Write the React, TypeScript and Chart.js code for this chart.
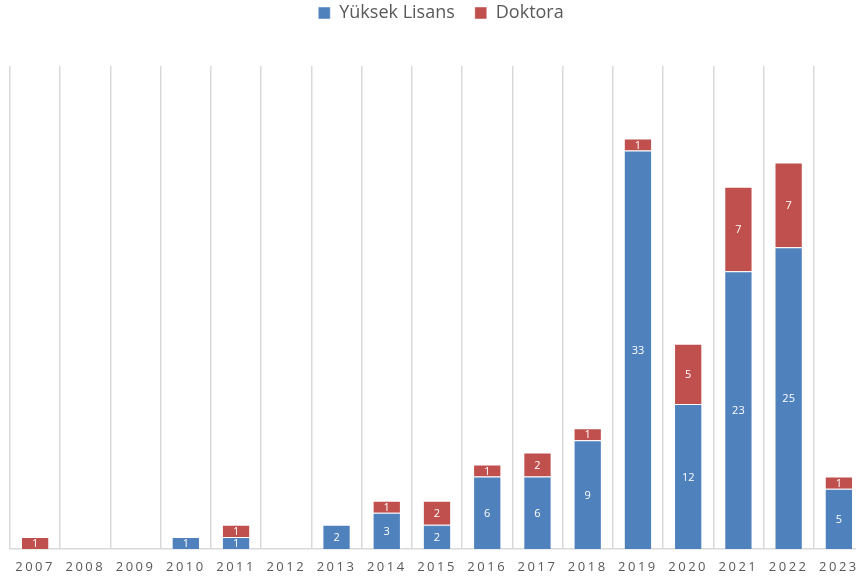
import React, { useEffect, useRef } from "react";
import { Chart, registerables } from "chart.js";
Chart.register(...registerables);

const years = ["2007", "2008", "2009", "2010", "2011", "2012", "2013", "2014", "2015", "2016", "2017", "2018", "2019", "2020", "2021", "2022", "2023"];
const yuksekLisans = [0, 0, 0, 1, 1, 0, 2, 3, 2, 6, 6, 9, 33, 12, 23, 25, 5];
const doktora = [1, 0, 0, 0, 1, 0, 0, 1, 2, 1, 2, 1, 1, 5, 7, 7, 1];
const seriesNames = ["Yüksek Lisans", "Doktora"];
const yMax = 40;

const FONT = "'Open Sans', sans-serif";
const LEGEND_H = 82;

const segLabels = {
  id: "segLabels",
  afterDatasetsDraw(chart: any) {
    const ctx = chart.ctx;
    ctx.save();
    ctx.font = `11px ${FONT}`;
    ctx.fillStyle = "#ffffff";
    ctx.textAlign = "center";
    ctx.textBaseline = "middle";
    chart.data.datasets.forEach((ds: any, i: number) => {
      const meta = chart.getDatasetMeta(i);
      meta.data.forEach((el: any, j: number) => {
        const v = ds.data[j];
        if (!v) return;
        const p = el.getProps(["x", "y", "base"], true);
        ctx.fillText(String(v), p.x, (p.y + p.base) / 2 + 1);
      });
    });
    ctx.restore();
  },
};

const tweaks = {
  id: "tweaks",
  beforeLayout(chart: any) {
    const lg = chart.legend;
    if (lg && !lg._fixed) {
      const f = lg.fit;
      lg.fit = function () {
        f.call(this);
        this.height = LEGEND_H;
      };
      lg._fixed = true;
    }
  },
  afterLayout(chart: any) {
    const lg = chart.legend;
    if (lg) {
      lg.left += 4;
      lg.right += 4;
    }
  },
  afterUpdate(chart: any) {
    const sc = chart.scales.x;
    if (sc && !sc._spaced) {
      const orig = sc.drawLabels.bind(sc);
      sc.drawLabels = (area: any) => {
        const c = chart.ctx;
        c.save();
        c.letterSpacing = "2.5px";
        orig(area);
        c.restore();
      };
      sc._spaced = true;
    }
  },
};

export default function App() {
  const ref = useRef<HTMLCanvasElement | null>(null);
  useEffect(() => {
    if (!ref.current) return;
    const chart = new Chart(ref.current, {
      type: "bar",
      data: {
        labels: years,
        datasets: [
          {
            label: seriesNames[0],
            data: yuksekLisans,
            backgroundColor: "#4F81BD",
            borderColor: "rgba(255,255,255,0.45)",
            borderWidth: 1,
            barPercentage: 0.563,
            categoryPercentage: 1,
          },
          {
            label: seriesNames[1],
            data: doktora,
            backgroundColor: "#C0504D",
            borderColor: "rgba(255,255,255,0.45)",
            borderWidth: 1,
            barPercentage: 0.563,
            categoryPercentage: 1,
          },
        ],
      },
      options: {
        animation: false,
        responsive: true,
        maintainAspectRatio: false,
        events: [],
        layout: { padding: { top: -16, left: 10, right: 0, bottom: 0 } },
        plugins: {
          tooltip: { enabled: false },
          legend: {
            position: "top",
            labels: {
              boxWidth: 12,
              boxHeight: 12,
              padding: 20,
              color: "#595959",
              font: { family: FONT, size: 18 },
            },
          },
        },
        scales: {
          x: {
            stacked: true,
            grid: { display: true, offset: true, color: "#d9d9d9", lineWidth: 1.5, drawTicks: false },
            border: { display: true, color: "#d9d9d9", width: 1.5 },
            ticks: {
              color: "#595959",
              font: { family: FONT, size: 13 },
              padding: 10,
              maxRotation: 0,
              autoSkip: false,
            },
            afterFit: (s: any) => {
              s.height = 30;
            },
          },
          y: {
            stacked: true,
            display: false,
            min: 0,
            max: yMax,
          },
        },
      },
      plugins: [segLabels, tweaks],
    });
    return () => chart.destroy();
  }, []);
  return (
    <div style={{ position: "absolute", left: 0, top: 0, width: 856, height: 579, overflow: "hidden", background: "#fff" }}>
      <div style={{ width: 864, height: 579, position: "relative" }}>
        <canvas ref={ref} />
      </div>
    </div>
  );
}
